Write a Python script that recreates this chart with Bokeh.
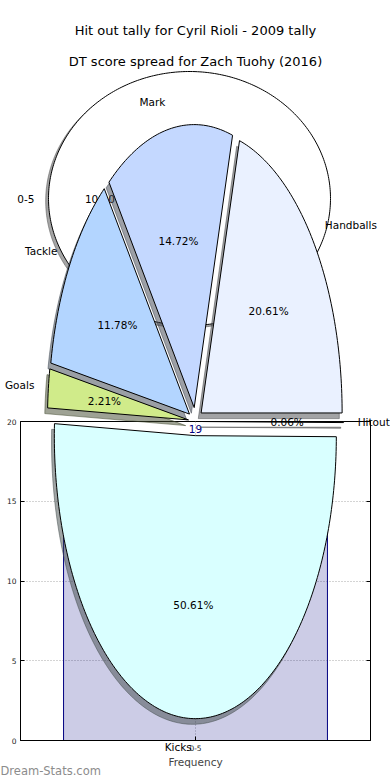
import numpy as np
from bokeh.plotting import figure
from bokeh.models import Range1d, FixedTicker, LinearAxis
from bokeh.core.properties import value
from bokeh.embed import file_html
from bokeh.resources import INLINE

# ---------------- data ----------------
title_hitout = "Hit out tally for Cyril Rioli - 2009 tally"
title_dt = "DT score spread for Zach Tuohy (2016)"
hitout_bins = ["0-5"]
hitout_share = [100.0]
stat_labels = ["Handballs", "Mark", "Tackle", "Goals", "Kicks", "Hitout"]
stat_share = [20.61, 14.72, 11.78, 2.21, 50.61, 0.06]
dt_bins = ["0-5"]
dt_counts = [19]
y_ticks = [0, 5, 10, 15, 20]
x_axis_label = "Frequency"
watermark = "Dream-Stats.com"

# ---------------- styles ----------------
stat_colors = ["#eaf1ff", "#c4d8ff", "#b3d5ff", "#d0eb8a", "#d9ffff", "#d0d0d0"]
hitout_colors = ["#ffffff"]
FONT = "DejaVu Sans"
EXPLODE = 0.05
SHADOW = 0.02

# layout (reference pixel positions)
W, H = 390, 780
FR_L, FR_R, FR_T, FR_B = 20, 370, 421, 740
PIE_C, PIE_R = (195, 421), (141, 283)
HO_C, HO_R = (189, 198), (141, 127)

bin_pos = list(range(len(dt_bins)))
p = figure(frame_width=FR_R - FR_L, frame_height=FR_B - FR_T,
           x_range=Range1d(-0.5, len(dt_bins) - 0.5), y_range=Range1d(0, 20),
           output_backend="svg", toolbar_location=None,
           min_border_left=FR_L, min_border_right=W - FR_R,
           min_border_top=FR_T, min_border_bottom=H - FR_B,
           background_fill_color="white", border_fill_color="white",
           outline_line_color="black", outline_line_width=1, outline_line_alpha=1)


def unit_ranges(c, r):
    xr = Range1d((FR_L - c[0]) / r[0], (FR_R - c[0]) / r[0])
    yr = Range1d((c[1] - FR_B) / r[1], (c[1] - FR_T) / r[1])
    return xr, yr


px, py = unit_ranges(PIE_C, PIE_R)
hx, hy = unit_ranges(HO_C, HO_R)
p.extra_x_ranges = {"pie_x": px, "ho_x": hx, "page_x": Range1d(FR_L, FR_R)}
p.extra_y_ranges = {"pie_y": py, "ho_y": hy, "page_y": Range1d(-FR_B, -FR_T)}

# ---------------- bar chart ----------------
p.vbar(x=bin_pos, top=dt_counts, width=0.754, bottom=0,
       fill_color="navy", fill_alpha=0.2, line_color="navy", line_width=1)
p.text(x=bin_pos, y=dt_counts, text=[str(v) for v in dt_counts],
       text_align="center", text_baseline="bottom", y_offset=-4,
       text_color="navy", text_font=value(FONT), text_font_size="10.5px")

p.yaxis.ticker = FixedTicker(ticks=y_ticks)
p.xaxis.ticker = FixedTicker(ticks=bin_pos)
p.xaxis.major_label_overrides = {i: b for i, b in zip(bin_pos, dt_bins)}
for ax in (p.xaxis, p.yaxis):
    ax.axis_line_color = "black"
    ax.major_tick_in = 4
    ax.major_tick_out = 0
    ax.minor_tick_line_color = None
    ax.major_label_text_font = FONT
    ax.major_label_text_font_size = "7.5px"
    ax.major_label_text_color = "#222222"
p.yaxis.major_label_standoff = 4
p.xaxis.major_label_standoff = 4
p.xaxis.axis_label = x_axis_label
p.xaxis.axis_label_standoff = 2
p.xaxis.axis_label_text_font = FONT
p.xaxis.axis_label_text_font_style = "normal"
p.xaxis.axis_label_text_font_size = "10.5px"
p.grid.grid_line_color = "#a8a8a8"
p.grid.grid_line_dash = "1 2"
p.grid.grid_line_width = 1

right_ax = LinearAxis(ticker=FixedTicker(ticks=y_ticks), axis_line_color="black",
                      major_tick_in=4, major_tick_out=0, minor_tick_line_color=None,
                      major_label_overrides={t: "" for t in y_ticks},
                      major_label_text_font_size="1px", major_label_standoff=0)
p.add_layout(right_ax, "right")

TXT = dict(level="annotation", text_font=value(FONT), text_font_size="10.5px",
           text_color="black", text_baseline="middle")


# ---------------- pies ----------------
def wedge_xy(t1, t2, ox, oy):
    n = max(3, int(np.degrees(t2 - t1)) + 2)
    th = np.linspace(t1, t2, n)
    if t2 - t1 >= 2 * np.pi - 1e-9:
        return list(ox + np.cos(th)), list(oy + np.sin(th))
    return list(np.r_[ox, ox + np.cos(th)]), list(np.r_[oy, oy + np.sin(th)])


def shade(hexcol):
    h = hexcol.lstrip("#")
    rgb = [int(h[i:i + 2], 16) for i in (0, 2, 4)]
    return "#%02x%02x%02x" % tuple(int(0.3 * c) for c in rgb)


def draw_pie(labels, shares, colors, xr, yr, explode, fmt):
    vals = np.asarray(shares, dtype=float)
    edges = np.r_[0.0, np.cumsum(vals / vals.sum())] * 2 * np.pi
    geo = []
    for i in range(len(vals)):
        t1, t2 = edges[i], edges[i + 1]
        tm = 0.5 * (t1 + t2)
        ox, oy = explode * np.cos(tm), explode * np.sin(tm)
        geo.append((t1, t2, tm, ox, oy))
    kw = dict(x_range_name=xr, y_range_name=yr, level="annotation")
    for (t1, t2, tm, ox, oy), col in zip(geo, colors):
        xs, ys = wedge_xy(t1, t2, ox - SHADOW, oy - SHADOW)
        p.patch(xs, ys, fill_color=shade(col), fill_alpha=0.5,
                line_color=shade(col), line_alpha=0.5, line_width=1, **kw)
    for (t1, t2, tm, ox, oy), col in zip(geo, colors):
        xs, ys = wedge_xy(t1, t2, ox, oy)
        p.patch(xs, ys, fill_color=col, line_color="black", line_width=1, **kw)
    tk = dict(TXT, x_range_name=xr, y_range_name=yr)
    for (t1, t2, tm, ox, oy), lab, v in zip(geo, labels, vals):
        c, s = np.cos(tm), np.sin(tm)
        p.text(x=[ox + 1.1 * c], y=[oy + 1.1 * s], text=[lab],
               text_align="right" if c < 0 else "left", **tk)
        p.text(x=[ox + 0.6 * c], y=[oy + 0.6 * s], text=[fmt % v],
               text_align="center", **tk)


draw_pie(hitout_bins, hitout_share, hitout_colors, "ho_x", "ho_y", 0.0, "%.1f%%")
draw_pie(stat_labels, stat_share, stat_colors, "pie_x", "pie_y", EXPLODE, "%.2f%%")

# ---------------- page texts ----------------
pg = dict(TXT, x_range_name="page_x", y_range_name="page_y")
p.text(x=[195, 195], y=[-30, -61], text=[title_hitout, title_dt],
       text_align="center", **dict(pg, text_font_size="13px"))
p.text(x=[0], y=[-770], text=[watermark], text_align="left",
       **dict(pg, text_font_size="11.5px", text_color="#8c8c8c"))

open("out.html", "w").write(file_html(p, INLINE))
